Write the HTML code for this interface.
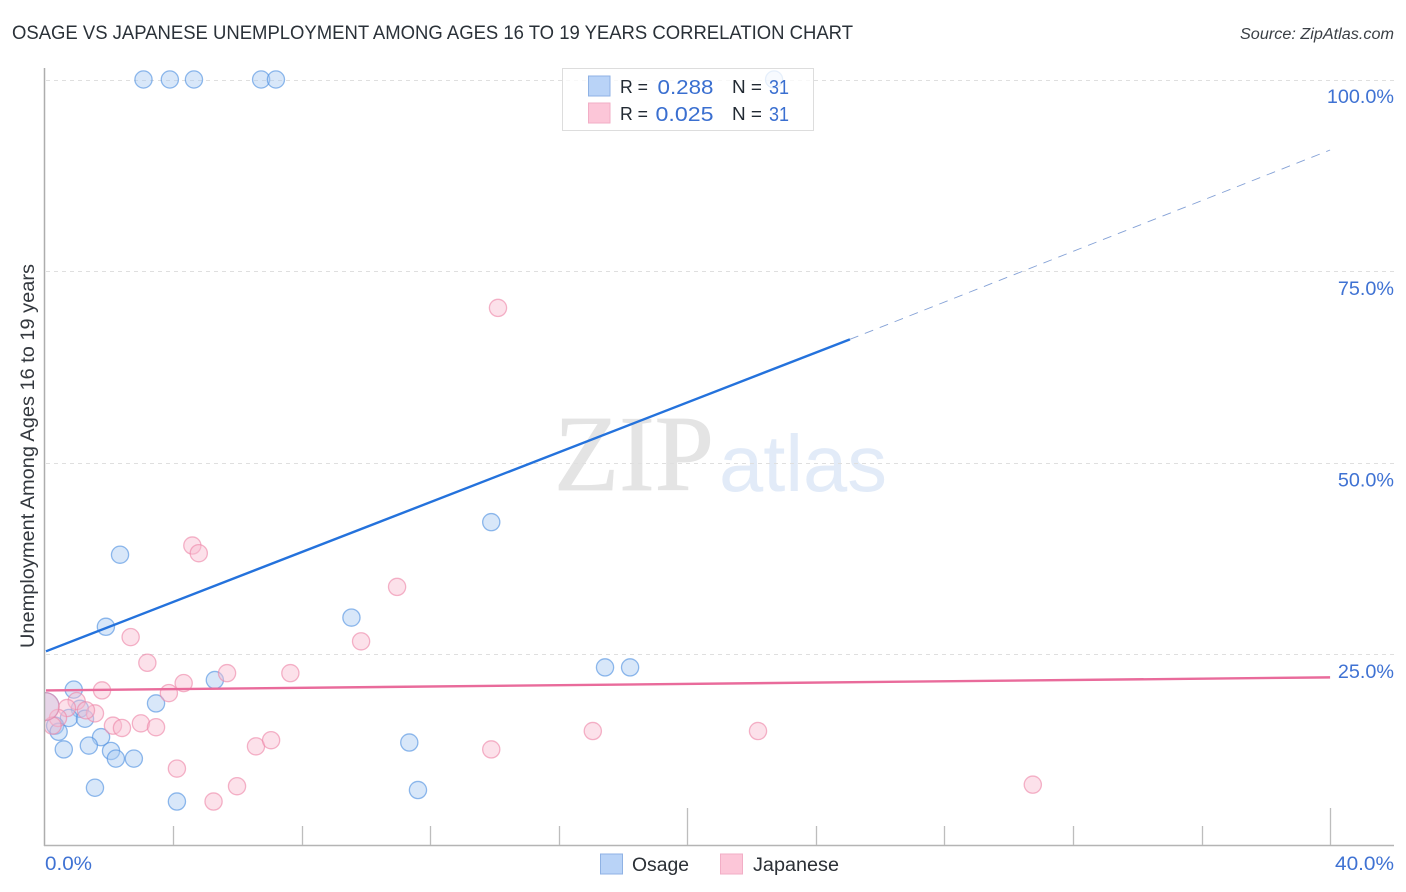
<!DOCTYPE html>
<html>
<head>
<meta charset="utf-8">
<title>Osage vs Japanese Unemployment Correlation Chart</title>
<style>
html,body{margin:0;padding:0;background:#fff;}
svg{display:block;font-family:"Liberation Sans",sans-serif;}
</style>
</head>
<body>
<svg id="chart" xmlns="http://www.w3.org/2000/svg" width="1406" height="892" viewBox="0 0 1406 892">
  <rect x="0" y="0" width="1406" height="892" fill="#ffffff"/>
  <defs><clipPath id="plot-clip"><rect x="45" y="60" width="1350" height="786"/></clipPath></defs>
  <text x="12" y="39" font-size="19" fill="#2a3138" textLength="841" lengthAdjust="spacingAndGlyphs">OSAGE VS JAPANESE UNEMPLOYMENT AMONG AGES 16 TO 19 YEARS CORRELATION CHART</text>
  <text x="1394" y="39" font-size="15.5" font-style="italic" fill="#3a3f45" text-anchor="end" textLength="154" lengthAdjust="spacingAndGlyphs">Source: ZipAtlas.com</text>
  <g>
    <text x="554" y="490" font-family="'Liberation Serif',serif" font-size="108" fill="#e4e4e4" stroke="#e4e4e4" stroke-width="0.8" textLength="160" lengthAdjust="spacingAndGlyphs">ZIP</text>
    <text x="719" y="491" font-size="80" fill="#e2ebf8" textLength="168" lengthAdjust="spacingAndGlyphs">atlas</text>
  </g>
  <g id="grid"></g>
  <g id="points" clip-path="url(#plot-clip)"></g>
  <g id="trends"></g>
  <g id="axes"></g>
  <text transform="translate(34,648) rotate(-90)" font-size="19" fill="#33383e" textLength="384" lengthAdjust="spacingAndGlyphs">Unemployment Among Ages 16 to 19 years</text>

  <g>
    <rect x="562.5" y="68.5" width="251" height="62" fill="#ffffff" fill-opacity="0.78" stroke="#dddddd" stroke-width="1"/>
    <rect x="588.5" y="76" width="21.5" height="20" fill="#b9d3f7" stroke="#8fb2e4" stroke-width="1"/>
    <rect x="588.5" y="103" width="21.5" height="20" fill="#fcc6d8" stroke="#f2aec6" stroke-width="1"/>
    <text x="620" y="93" font-size="18.5" fill="#222a33" textLength="28" lengthAdjust="spacingAndGlyphs">R =</text>
    <text x="657.5" y="94" font-size="20.5" fill="#3a6fd0" textLength="56" lengthAdjust="spacingAndGlyphs">0.288</text>
    <text x="732" y="93" font-size="18.5" fill="#222a33" textLength="30" lengthAdjust="spacingAndGlyphs">N =</text>
    <text x="769" y="94" font-size="20.5" fill="#3a6fd0" textLength="20" lengthAdjust="spacingAndGlyphs">31</text>
    <text x="620" y="120" font-size="18.5" fill="#222a33" textLength="28" lengthAdjust="spacingAndGlyphs">R =</text>
    <text x="655.5" y="121" font-size="20.5" fill="#3a6fd0" textLength="58" lengthAdjust="spacingAndGlyphs">0.025</text>
    <text x="732" y="120" font-size="18.5" fill="#222a33" textLength="30" lengthAdjust="spacingAndGlyphs">N =</text>
    <text x="769" y="121" font-size="20.5" fill="#3a6fd0" textLength="20" lengthAdjust="spacingAndGlyphs">31</text>
  </g>

  <g>
    <rect x="600.5" y="854" width="22" height="20" fill="#b9d3f7" stroke="#8fb2e4" stroke-width="1"/>
    <text x="632" y="871" font-size="19" fill="#2b3036" textLength="57" lengthAdjust="spacingAndGlyphs">Osage</text>
    <rect x="720.5" y="854" width="22" height="20" fill="#fcc6d8" stroke="#f2aec6" stroke-width="1"/>
    <text x="753" y="871" font-size="19" fill="#2b3036" textLength="86" lengthAdjust="spacingAndGlyphs">Japanese</text>
  </g>
</svg>
<script>
// Data values (percent)
const osageX = [3.08,3.9,4.65,6.74,7.2,22.7,13.9,2.35,1.91,9.55,17.44,18.22,5.3,3.47,0.91,1.1,0.76,1.26,0.33,0.44,0.6,1.76,1.38,2.07,2.22,2.78,1.57,4.12,11.35,11.62,0.02];
const osageY = [100,100,100,100,100,100,42.25,38,28.6,29.8,23.3,23.3,21.65,18.6,20.4,17.9,16.7,16.6,15.7,14.9,12.6,14.2,13.1,12.4,11.4,11.4,7.6,5.8,13.5,7.3,18.2];
const osageWeight = [1,1,1,1,1,1,1,1,1,1,1,1,1,1,1,1,1,1,1,1,1,1,1,1,1,1,1,1,1,1,2.6];
const japaneseX = [14.11,4.6,4.8,10.97,9.85,2.68,3.2,5.68,7.65,4.33,3.87,1.79,1,1.57,1.29,0.7,0.42,0.25,2.13,2.41,3,3.47,4.12,5.26,5.99,6.58,7.05,17.06,22.2,13.9,30.75,0.02];
const japaneseY = [70.2,39.2,38.2,33.8,26.7,27.25,23.9,22.55,22.55,21.25,19.95,20.3,18.9,17.3,17.7,18,16.7,15.7,15.7,15.4,16,15.5,10.1,5.8,7.8,13,13.8,15,15,12.6,8,18.2];
const japaneseWeight = [1,1,1,1,1,1,1,1,1,1,1,1,1,1,1,1,1,1,1,1,1,1,1,1,1,1,1,1,1,1,1,2.6];
const trendOsage = [25.4, 66.1, 90.8];
const trendOsageBreaks = [0, 25.06, 40];
const trendJapanese = [20.3, 22.0];
const trendJapaneseBreaks = [0, 40];
const xTickValues = [4,8,12,16,20,24,28,32,36,40];
const xTickMajor = [20,40];
const xEdgeLabels = ["0.0%","40.0%"];
const yTickValues = [100,75,50,25];
const yTickLabels = ["100.0%","75.0%","50.0%","25.0%"];

// Axis functions
function xScale(v){ return 44.5 + v * 32.14; }
function yScale(v){ return 846 - v * 7.665; }

const NS = 'http://www.w3.org/2000/svg';
function make(tag, attrs, parent){
  const el = document.createElementNS(NS, tag);
  for (const k in attrs) el.setAttribute(k, attrs[k]);
  parent.appendChild(el);
  return el;
}
const grid = document.getElementById('grid');
const axes = document.getElementById('axes');
const points = document.getElementById('points');
const trends = document.getElementById('trends');

yTickValues.forEach(function(v, i){
  const y = Math.round(yScale(v)) + 0.5;
  const line = make('line', {x1:46, x2:1394, y1:y, y2:y, stroke:'#dfdfdf', 'stroke-width':1, 'stroke-dasharray':'4 4'}, grid);
  
  
  const label = make('text', {x:1394, y:yScale(v)+23.7, 'font-size':19.8, fill:'#3f72d3', 'text-anchor':'end'}, axes);
  
  
  label.textContent = yTickLabels[i];
});

const yAxis = make('line', {x1:44.5, x2:44.5, y1:68, y2:846, stroke:'#adadad', 'stroke-width':1.5}, axes);


const xAxis = make('line', {x1:44, x2:1394, y1:845.5, y2:845.5, stroke:'#b4b4b4', 'stroke-width':1.5}, axes);



xTickValues.forEach(function(v){
  const x = Math.round(xScale(v)) + 0.5;
  const top = xTickMajor.indexOf(v) >= 0 ? 808 : 826;
  const tick = make('line', {x1:x, x2:x, y1:top, y2:845, stroke:'#bdbdbd', 'stroke-width':1.3}, axes);
  
  
});

const xLabelLeft = make('text', {x:45, y:870, 'font-size':19.8, fill:'#3f72d3', textLength:47, lengthAdjust:'spacingAndGlyphs'}, axes);


xLabelLeft.textContent = xEdgeLabels[0];
const xLabelRight = make('text', {x:1335, y:870, 'font-size':19.8, fill:'#3f72d3', textLength:59, lengthAdjust:'spacingAndGlyphs'}, axes);


xLabelRight.textContent = xEdgeLabels[1];

osageX.forEach(function(v, i){
  const c = make('circle', {cx:xScale(v), cy:yScale(osageY[i]), r:8.6*Math.sqrt(osageWeight[i]), fill:'#a9c9f2', 'fill-opacity':0.45, stroke:'#4d8fe0', 'stroke-opacity':0.62, 'stroke-width':1.3}, points);
  
  
});
japaneseX.forEach(function(v, i){
  const c = make('circle', {cx:xScale(v), cy:yScale(japaneseY[i]), r:8.6*Math.sqrt(japaneseWeight[i]), fill:'#f9bcd0', 'fill-opacity':0.45, stroke:'#ee86a8', 'stroke-opacity':0.62, 'stroke-width':1.3}, points);
  
  
});

const osageSolid = make('line', {x1:xScale(trendOsageBreaks[0])+1.5, y1:yScale(trendOsage[0]), x2:xScale(trendOsageBreaks[1]), y2:yScale(trendOsage[1]), stroke:'#2472dc', 'stroke-width':2.4}, trends);


const osageDash = make('line', {x1:xScale(trendOsageBreaks[1]), y1:yScale(trendOsage[1]), x2:xScale(trendOsageBreaks[2]), y2:yScale(trendOsage[2]), stroke:'#5b82c8', 'stroke-opacity':0.75, 'stroke-width':0.9, 'stroke-dasharray':'9 7'}, trends);


const japaneseLine = make('line', {x1:xScale(trendJapaneseBreaks[0])+1.5, y1:yScale(trendJapanese[0]), x2:xScale(trendJapaneseBreaks[1]), y2:yScale(trendJapanese[1]), stroke:'#e96b9b', 'stroke-width':2.4}, trends);


</script>
</body>
</html>
